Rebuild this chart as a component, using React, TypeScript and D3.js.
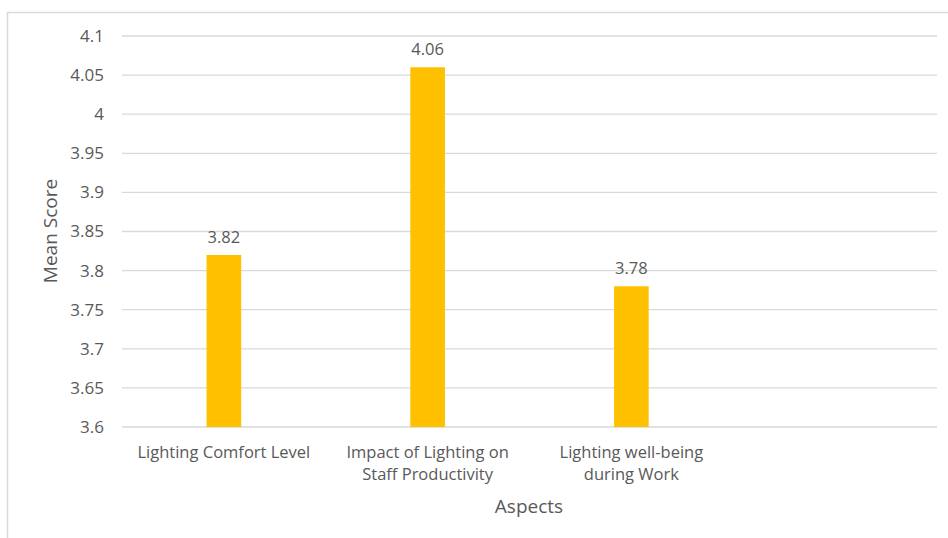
import React from 'react';
import * as d3 from 'd3';

const categories = [
  ['Lighting Comfort Level'],
  ['Impact of Lighting on', 'Staff Productivity'],
  ['Lighting well-being', 'during Work'],
  [''],
];
const values = [3.82, 4.06, 3.78, null];
const yTicks = [3.6, 3.65, 3.7, 3.75, 3.8, 3.85, 3.9, 3.95, 4, 4.05, 4.1];

const width = 948;
const height = 538;
const margin = { top: 36, right: 11, bottom: 111, left: 122 };
const font = "'Open Sans', sans-serif";
const textColor = '#595959';
const fs = 16.5;

const App = () => {
  const innerW = width - margin.left - margin.right;
  const innerH = height - margin.top - margin.bottom;

  const x = d3.scaleBand()
    .domain(categories.map((d, i) => String(i)))
    .range([0, innerW])
    .paddingInner(0.83)
    .paddingOuter(0.415);

  const y = d3.scaleLinear().domain([3.6, 4.1]).range([innerH, 0]);

  return (
    <div style={{ position: 'absolute', left: 0, top: 0 }}>
      <svg width={width} height={height} style={{ display: 'block', background: '#fff' }}>
        {/* chart border */}
        <rect x={7.5} y={12.5} width={width + 10} height={height + 10} fill="none" stroke="#d9d9d9" strokeWidth={1.5} />
        <g transform={`translate(${margin.left},${margin.top})`}>
          {yTicks.map(t => (
            <g key={t}>
              <line x1={0} x2={innerW} y1={y(t)} y2={y(t)} stroke="#d9d9d9" strokeWidth={1.3} />
              <text x={-18} y={y(t)} dy="0.35em" textAnchor="end" fontFamily={font} fontSize={fs + 0.5} fill={textColor}>
                {d3.format('')(t)}
              </text>
            </g>
          ))}
          {values.map((v, i) => v == null ? null : (
            <g key={i}>
              <rect x={x(String(i))} y={y(v)} width={x.bandwidth()} height={innerH - y(v)} fill="#FFC000" />
              <text x={(x(String(i)) as number) + x.bandwidth() / 2} y={y(v) - 12} textAnchor="middle"
                fontFamily={font} fontSize={fs} fill={textColor}>{v.toFixed(2)}</text>
            </g>
          ))}
          {categories.map((lines, i) => (
            <text key={i} x={(x(String(i)) as number) + x.bandwidth() / 2} y={innerH + 31}
              textAnchor="middle" fontFamily={font} fontSize={fs} fill={textColor}>
              {lines.map((l, j) => (
                <tspan key={j} x={(x(String(i)) as number) + x.bandwidth() / 2} dy={j === 0 ? 0 : 22}>{l}</tspan>
              ))}
            </text>
          ))}
        </g>
        <text x={529} y={513} textAnchor="middle" fontFamily={font} fontSize={19} fill={textColor}>Aspects</text>
        <text transform={`translate(57,231) rotate(-90)`} textAnchor="middle" fontFamily={font} fontSize={19} fill={textColor}>Mean Score</text>
      </svg>
    </div>
  );
};

export default App;
